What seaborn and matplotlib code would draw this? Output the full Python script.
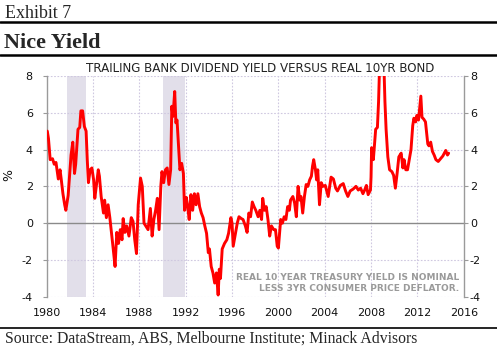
import matplotlib
matplotlib.use("Agg")
import matplotlib.pyplot as plt
import seaborn as sns
import pandas as pd
import numpy as np

years = [1980.05, 1980.15, 1980.3, 1980.5, 1980.65, 1980.8, 1981.0, 1981.15, 1981.25, 1981.4,
         1981.55, 1981.65, 1981.85, 1982.1, 1982.25, 1982.4, 1982.5, 1982.7, 1982.85, 1982.95,
         1983.1, 1983.25, 1983.4, 1983.5, 1983.6, 1983.75, 1983.9, 1984.05, 1984.15, 1984.3,
         1984.45, 1984.55, 1984.7, 1984.9, 1985.0, 1985.15, 1985.3, 1985.45, 1985.6, 1985.75,
         1985.9, 1986.05, 1986.2, 1986.35, 1986.5, 1986.6, 1986.75, 1986.9, 1987.1, 1987.3,
         1987.45, 1987.6, 1987.75, 1987.9, 1988.1, 1988.25, 1988.4, 1988.55, 1988.75, 1988.95,
         1989.1, 1989.25, 1989.4, 1989.55, 1989.7, 1989.85, 1989.95, 1990.1, 1990.25, 1990.4,
         1990.55, 1990.7, 1990.8, 1990.9, 1991.05, 1991.15, 1991.25, 1991.4, 1991.5, 1991.65,
         1991.8, 1991.9, 1992.05, 1992.15, 1992.3, 1992.45, 1992.6, 1992.75, 1992.9, 1993.05,
         1993.2, 1993.35, 1993.5, 1993.65, 1993.8, 1993.95, 1994.05, 1994.2, 1994.35, 1994.5,
         1994.65, 1994.8, 1994.9, 1995.0, 1995.15, 1995.35, 1995.55, 1995.7, 1995.9, 1996.0,
         1996.1, 1996.25, 1996.45, 1996.6, 1996.8, 1996.95, 1997.15, 1997.3, 1997.45, 1997.6,
         1997.75, 1997.9, 1998.05, 1998.25, 1998.4, 1998.55, 1998.65, 1998.8, 1998.95, 1999.1,
         1999.25, 1999.4, 1999.6, 1999.75, 1999.9, 2000.0, 2000.2, 2000.35, 2000.5, 2000.65,
         2000.8, 2000.95, 2001.05, 2001.25, 2001.4, 2001.55, 2001.7, 2001.85, 2001.95, 2002.1,
         2002.25, 2002.4, 2002.55, 2002.7, 2002.85, 2002.95, 2003.05, 2003.2, 2003.3, 2003.4,
         2003.55, 2003.7, 2003.85, 2004.05, 2004.3, 2004.55, 2004.75, 2004.95, 2005.1, 2005.35,
         2005.6, 2005.8, 2006.0, 2006.2, 2006.45, 2006.7, 2006.9, 2007.1, 2007.3, 2007.45,
         2007.6, 2007.75, 2007.95, 2008.0, 2008.05, 2008.2, 2008.4, 2008.55, 2008.65, 2008.75,
         2008.85, 2008.95, 2009.1, 2009.2, 2009.3, 2009.45, 2009.6, 2009.8, 2009.95, 2010.1,
         2010.25, 2010.4, 2010.6, 2010.75, 2010.85, 2011.0, 2011.15, 2011.45, 2011.6, 2011.7,
         2011.85, 2011.95, 2012.1, 2012.3, 2012.4, 2012.55, 2012.7, 2012.9, 2013.0, 2013.15,
         2013.3, 2013.45, 2013.6, 2013.8, 2014.0, 2014.2, 2014.45, 2014.6, 2014.7]
yields = [5.0, 4.6, 3.45, 3.5, 3.2, 3.3, 2.4, 2.9, 2.4, 1.6,
          1.0, 0.7, 1.5, 3.7, 4.4, 2.7, 3.2, 5.1, 5.2, 6.1,
          6.1, 5.25, 5.0, 3.45, 2.2, 2.9, 3.0, 2.35, 1.35, 2.1,
          2.9, 2.55, 1.45, 0.55, 1.25, 0.3, 1.0, 0.3, -0.55, -1.45,
          -2.35, -0.5, -1.1, -0.35, -0.9, 0.25, -0.5, -0.15, -0.7, 0.3,
          0.1, -0.9, -1.65, 1.0, 2.45, 2.0, 0.0, -0.15, -0.35, 0.8,
          -0.7, 0.2, 0.7, 1.35, -0.35, 2.0, 2.8, 2.2, 2.9, 3.0,
          2.1, 2.9, 6.35, 5.8, 7.15, 5.45, 5.6, 4.0, 2.9, 3.25,
          2.7, 0.7, 1.4, 1.0, 0.2, 1.55, 0.7, 1.6, 1.0, 1.6,
          0.9, 0.55, 0.3, -0.15, -0.55, -1.6, -1.4, -2.35, -2.7, -3.25,
          -2.7, -3.9, -2.5, -3.0, -1.4, -1.1, -0.9, -0.55, 0.3, 0.0,
          -1.25, -0.7, 0.0, 0.35, 0.25, 0.2, -0.15, -0.5, 0.55, 0.35,
          1.15, 0.9, 0.7, 0.35, 0.7, 0.2, 1.35, 0.7, 0.9, 0.2,
          -0.7, -0.15, -0.35, -0.35, -1.25, -1.35, 0.2, 0.0, 0.35, 0.2,
          0.9, 0.7, 1.25, 1.45, 1.1, 0.35, 2.0, 1.25, 1.45, 0.55,
          1.45, 2.1, 2.0, 2.35, 2.55, 3.1, 3.45, 2.9, 2.35, 2.9,
          1.0, 2.2, 2.0, 2.05, 1.45, 2.5, 2.4, 1.9, 1.75, 2.05,
          2.15, 1.75, 1.45, 1.75, 1.85, 2.0, 1.8, 1.9, 1.6, 1.8,
          2.05, 1.55, 1.8, 2.5, 4.1, 3.45, 5.1, 5.2, 6.6, 8.8,
          10.0, 10.0, 8.8, 6.6, 5.1, 3.6, 2.9, 2.8, 2.6, 1.9,
          2.7, 3.6, 3.8, 3.0, 3.45, 2.9, 2.9, 4.0, 5.3, 5.7,
          5.5, 5.85, 5.6, 6.9, 5.75, 5.65, 5.5, 4.3, 4.2, 4.4,
          3.9, 3.7, 3.45, 3.35, 3.5, 3.65, 3.95, 3.7, 3.8]

recessions = [(1981.77, 1983.4), (1990.05, 1991.92)]
x_ticks = [1980, 1984, 1988, 1992, 1996, 2000, 2004, 2008, 2012, 2016]
y_ticks = [-4, -2, 0, 2, 4, 6, 8]

df = pd.DataFrame({"year": years, "yield": yields})

sns.set_style("white")
plt.rcParams['font.family'] = ['DejaVu Sans']

fig = plt.figure(figsize=(4.97, 3.48), dpi=100)
ax = fig.add_axes([0.094, 0.147, 0.839, 0.635])

grid_c = "#cfc8e0"
spine_c = "#9a9a9a"
txt_c = "#111111"

for a, b in recessions:
    ax.axvspan(a, b, color="#e2dfea", lw=0, zorder=0)

for yv in y_ticks:
    if yv != 0:
        ax.axhline(yv, color=grid_c, lw=0.8, ls=(0, (1.5, 1.5)), zorder=1)
for xv in x_ticks[1:-1]:
    ax.axvline(xv, color=grid_c, lw=0.8, ls=(0, (1.5, 1.5)), zorder=1)

sns.lineplot(data=df, x="year", y="yield", color="#ff0000", lw=2.1, ax=ax, zorder=3)

ax.set_xlim(1980, 2016)
ax.set_ylim(-4, 8)

ax.spines["top"].set_visible(False)
for s in ["left", "right"]:
    ax.spines[s].set_color(spine_c)
    ax.spines[s].set_linewidth(1.0)
ax.spines["bottom"].set_position(("data", 0))
ax.spines["bottom"].set_color("#8a8a8a")
ax.spines["bottom"].set_linewidth(1.0)
ax.spines["bottom"].set_zorder(2)

ax.set_xticks(np.arange(1980, 2017, 2))
ax.tick_params(axis="x", direction="out", length=3, color="#8a8a8a", labelbottom=False)
ax.set_yticks(y_ticks)
ax.set_yticklabels([str(v) for v in y_ticks])
ax.tick_params(axis="y", left=True, right=False, labelleft=True, labelright=False,
               direction="out", length=3, color=spine_c, labelsize=8, labelcolor=txt_c, pad=7)

rax = ax.secondary_yaxis("right")
rax.set_yticks(y_ticks)
rax.set_yticklabels([str(v) for v in y_ticks])
rax.tick_params(direction="out", length=3, color=spine_c, labelsize=8, labelcolor=txt_c, pad=1.5)
rax.spines["right"].set_visible(False)

sec = ax.secondary_xaxis(0)
sec.set_xticks(x_ticks)
sec.set_xticklabels([str(v) for v in x_ticks])
sec.tick_params(length=0, labelsize=8, labelcolor=txt_c, pad=8)
sec.spines["bottom"].set_visible(False)

ax.set_xlabel("")
ax.set_ylabel("%", fontsize=9, color=txt_c)
ax.yaxis.set_label_coords(-0.075, 0.55)

ax.set_title("TRAILING BANK DIVIDEND YIELD VERSUS REAL 10YR BOND", fontsize=8.6,
             color="#222222", pad=3, x=0.513)

ax.text(0.99, 0.018, "REAL 10 YEAR TREASURY YIELD IS NOMINAL\nLESS 3YR CONSUMER PRICE DEFLATOR.",
        transform=ax.transAxes, ha="right", va="bottom", fontsize=6.5, fontweight="bold",
        color="#9a9a9a", linespacing=1.2, zorder=4)

# header / footer
serif = ['Liberation Serif', 'DejaVu Serif']
fig.text(0.010, 0.947, "Exhibit 7", fontsize=13, family=serif, va="baseline", ha="left")
fig.add_artist(plt.Line2D([0.0, 1.0], [0.937, 0.937], color="black", lw=1.8, transform=fig.transFigure))
fig.text(0.008, 0.861, "Nice Yield", fontsize=16, family=serif, fontweight="bold", va="baseline", ha="left")
fig.add_artist(plt.Line2D([0.0, 1.0], [0.843, 0.843], color="black", lw=1.8, transform=fig.transFigure))
fig.add_artist(plt.Line2D([0.0, 1.0], [0.057, 0.057], color="black", lw=1.2, transform=fig.transFigure))
fig.text(0.010, 0.0145, "Source: DataStream, ABS, Melbourne Institute; Minack Advisors",
         fontsize=11.3, family=serif, va="baseline", ha="left")

fig.savefig("out.png", dpi=100)
